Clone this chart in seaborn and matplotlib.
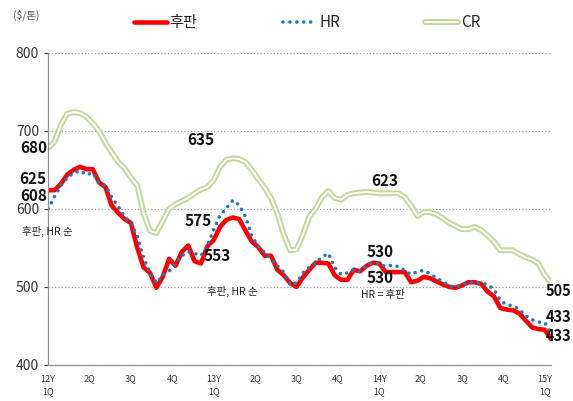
import numpy as np
import pandas as pd
import seaborn as sns
import matplotlib.pyplot as plt
import matplotlib.patheffects as pe
from matplotlib.lines import Line2D

# 2주 간격 가격 ($/톤), 12Y 1Q ~ 15Y 1Q
plate = [624, 624, 632, 644, 650, 654, 651, 651, 634, 628,
         604, 595, 587, 582, 550, 525, 518, 499, 513, 536,
         527, 545, 553, 533, 530, 552, 560, 577, 586, 589,
         587, 572, 558, 551, 540, 540, 522, 515, 505, 500,
         512, 522, 531, 531, 530, 515, 509, 509, 522, 520,
         527, 531, 530, 519, 519, 519, 519, 506, 508, 513,
         511, 507, 503, 500, 499, 502, 506, 506, 504, 494,
         488, 473, 471, 470, 466, 457, 448, 446, 445, 433]
hr = [600, 616, 630, 640, 646, 649, 644, 646, 633, 630,
      615, 603, 590, 582, 565, 537, 518, 505, 515, 520,
      530, 540, 545, 543, 540, 553, 573, 592, 601, 611,
      605, 590, 565, 552, 544, 536, 527, 519, 503, 505,
      518, 525, 531, 538, 543, 525, 516, 518, 522, 520,
      527, 531, 530, 526, 528, 526, 521, 516, 520, 521,
      517, 511, 507, 501, 500, 503, 506, 506, 505, 503,
      497, 483, 477, 476, 471, 463, 458, 455, 454, 440]
cr = [678, 686, 708, 722, 724, 723, 718, 710, 700, 685,
      672, 660, 652, 640, 630, 594, 572, 569, 585, 600,
      606, 610, 614, 620, 625, 628, 637, 654, 663, 665,
      664, 660, 650, 638, 627, 614, 594, 567, 547, 548,
      567, 590, 600, 615, 623, 614, 612, 618, 620, 621,
      622, 621, 620, 620, 620, 620, 615, 604, 591, 596,
      596, 593, 588, 582, 578, 574, 574, 577, 573, 566,
      558, 547, 547, 547, 542, 538, 535, 530, 515, 505]

quarter_labels = ['12Y\n1Q', '2Q', '3Q', '4Q', '13Y\n1Q', '2Q', '3Q', '4Q',
                  '14Y\n1Q', '2Q', '3Q', '4Q', '15Y\n1Q']

df = pd.DataFrame({'t': np.arange(len(plate)), '후판': plate, 'HR': hr, 'CR': cr})

sns.set_theme(style='white')
plt.rcParams['font.family'] = ['Noto Sans CJK KR', 'DejaVu Sans']

fig = plt.figure(figsize=(5.73, 4.01), dpi=100)
ax = fig.add_axes([0.084, 0.09, 0.878, 0.778])

green = '#c4d79b'
blue = '#1f78b8'
dots = (0, (0.01, 1.9))
sns.lineplot(data=df, x='t', y='CR', ax=ax, color='white', linewidth=1.4,
             path_effects=[pe.Stroke(linewidth=4.2, foreground=green), pe.Normal()])
sns.lineplot(data=df, x='t', y='후판', ax=ax, color='#ff0000', linewidth=3.3)
sns.lineplot(data=df, x='t', y='HR', ax=ax, color=blue, linewidth=2.6,
             linestyle=dots, dash_capstyle='round')

ax.set_xlim(0, 79)
ax.set_ylim(400, 800)
ax.set_yticks([400, 500, 600, 700, 800])
ax.set_xticks(np.arange(13) * 6.5)
ax.set_xticklabels(quarter_labels, fontsize=6.5, color='#333333', linespacing=1.5)
ax.tick_params(axis='y', labelsize=10, colors='#333333', left=True, length=3, width=0.8)
ax.tick_params(axis='x', length=0, pad=7)
ax.set_xlabel('')
ax.set_ylabel('')
for s in ['top', 'right']:
    ax.spines[s].set_visible(False)
for s in ['left', 'bottom']:
    ax.spines[s].set_color('#909090')
    ax.spines[s].set_linewidth(0.9)
ax.yaxis.grid(True, linestyle=':', color='#a0a0a0', linewidth=0.9)
ax.set_axisbelow(True)

num = dict(fontsize=11, fontweight='bold', color='#111111', clip_on=False)
small = dict(fontsize=7.5, color='#222222', clip_on=False)
ax.text(-0.2, 678, '680', ha='right', va='center', **num)
ax.text(-0.2, 638, '625', ha='right', va='center', **num)
ax.text(-0.2, 617, '608', ha='right', va='center', **num)
ax.text(-4.1, 571, '후판, HR 순', ha='left', va='center', **small)
ax.text(23.9, 688, '635', ha='center', va='center', **num)
ax.text(23.6, 585, '575', ha='center', va='center', **num)
ax.text(26.6, 539, '553', ha='center', va='center', **num)
ax.text(28.9, 494, '후판, HR 순', ha='center', va='center',
        bbox=dict(facecolor='white', edgecolor='none', pad=1), **small)
ax.text(52.9, 636, '623', ha='center', va='center', **num)
ax.text(52.1, 545, '530', ha='center', va='center', **num)
ax.text(52.1, 512, '530', ha='center', va='center', **num)
ax.text(52.6, 489, 'HR = 후판', ha='center', va='center',
        bbox=dict(facecolor='white', edgecolor='none', pad=1), **small)
edge = dict(num, fontsize=10.5)
ax.text(78.1, 495, '505', ha='left', va='center', **edge)
ax.text(78.1, 462, '433', ha='left', va='center', **edge)
ax.text(78.1, 437, '433', ha='left', va='center', **edge)

fig.text(0.022, 0.962, '($/톤)', fontsize=7.5, color='#555555', ha='left', va='center')

handles = [
    Line2D([], [], color='#ff0000', linewidth=3.3),
    Line2D([], [], color=blue, linewidth=2.6, linestyle=dots, dash_capstyle='round'),
    Line2D([], [], color='white', linewidth=1.4,
           path_effects=[pe.Stroke(linewidth=4.2, foreground=green), pe.Normal()]),
]
fig.legend(handles, ['후판', 'HR', 'CR'], loc='center', bbox_to_anchor=(0.536, 0.943),
           ncol=3, frameon=False, fontsize=11, handlelength=2.15, handletextpad=0.2,
           columnspacing=5.6)

fig.savefig('out.png', dpi=100)
